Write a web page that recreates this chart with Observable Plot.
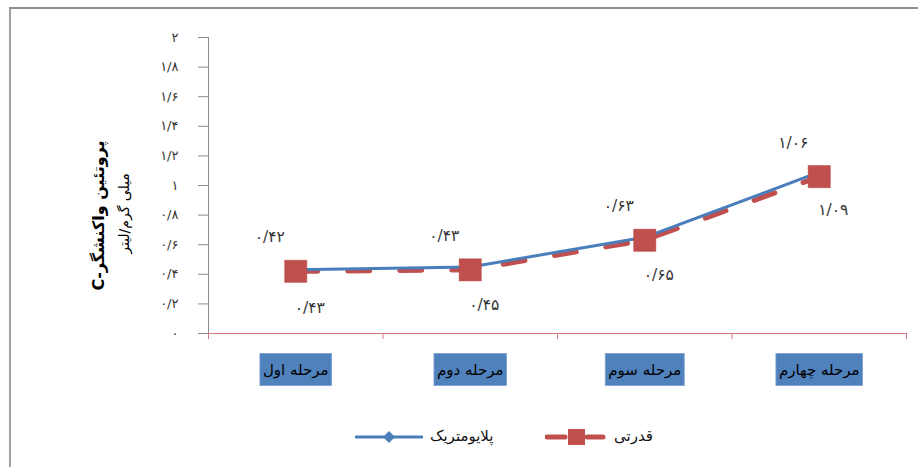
<!DOCTYPE html>
<html>
<head>
<meta charset="utf-8">
<script src="https://cdn.jsdelivr.net/npm/d3@7"></script>
<script src="https://cdn.jsdelivr.net/npm/@observablehq/plot@0.6"></script>
<style>
  html, body { margin: 0; padding: 0; background: #fff; }
  body { width: 918px; height: 467px; position: relative; overflow: hidden; font-family: "DejaVu Sans", sans-serif; }
  #frame { position: absolute; left: 9px; top: 7px; width: 940px; height: 500px; border-top: 2px solid #8e8e8e; border-left: 2px solid #a0a0a0; }
  #chart { position: absolute; left: 0; top: 0; }
  .legend-item { position: absolute; display: flex; align-items: center; font-size: 15px; color: #111; direction: rtl; }
</style>
</head>
<body>
<div id="frame"></div>
<div id="chart"></div>
<div id="legend"></div>
<script>
// ---- data ----
const stages = ["مرحله اول", "مرحله دوم", "مرحله سوم", "مرحله چهارم"];
const plyometric = [0.43, 0.45, 0.65, 1.09];   // پلایومتریک
const strength = [0.42, 0.43, 0.63, 1.06];     // قدرتی
const seriesNames = ["پلایومتریک", "قدرتی"];
const yTicks = [0, 0.2, 0.4, 0.6, 0.8, 1, 1.2, 1.4, 1.6, 1.8, 2];
const yTickLabels = ["۰", "۰/۲", "۰/۴", "۰/۶", "۰/۸", "۱", "۱/۲", "۱/۴", "۱/۶", "۱/۸", "۲"];
const yTitle = "پروتئین واکنشگر-C";
const yUnit = "میلی گرم/لیتر";

const blue = "#4a7ebb";
const red = "#c0504d";

const faDigits = "۰۱۲۳۴۵۶۷۸۹";
const fa = v => v.toFixed(2).replace(/\d/g, d => faDigits[+d]).replace(".", "/");

const plyRows = stages.map((s, i) => ({stage: s, pos: i + 0.5, value: plyometric[i]}));
const strRows = stages.map((s, i) => ({stage: s, pos: i + 0.5, value: strength[i]}));
const stageRows = stages.map((s, i) => ({stage: s, pos: i + 0.5}));

const chart = Plot.plot({
  width: 918,
  height: 400,
  marginLeft: 208,
  marginRight: 12,
  marginTop: 37,
  marginBottom: 67,
  x: {domain: [0, 4]},
  y: {domain: [0, 2]},
  style: {fontFamily: "DejaVu Sans, sans-serif", background: "transparent", overflow: "visible"},
  marks: [
    Plot.axisY(yTicks, {
      tickSize: 10, tickPadding: 20, stroke: "#8c8c8c", fill: "#333", fontSize: 13,
      tickFormat: d => yTickLabels[yTicks.indexOf(d)], label: null
    }),
    Plot.frame({anchor: "left", stroke: "#8c8c8c"}),
    Plot.axisX([0, 1, 2, 3, 4], {tickSize: 6, stroke: "#d9787c", tickFormat: () => "", label: null}),
    Plot.ruleY([0], {stroke: "#d9787c", strokeWidth: 1.2}),
    Plot.line(strRows, {x: "pos", y: "value", stroke: red, strokeWidth: 5, strokeDasharray: "22,30", strokeLinecap: "round"}),
    Plot.line(plyRows, {x: "pos", y: "value", stroke: blue, strokeWidth: 3}),
    Plot.dot(plyRows, {x: "pos", y: "value", symbol: "diamond2", fill: blue, r: 5}),
    Plot.dot(strRows, {x: "pos", y: "value", symbol: "square", fill: red, stroke: "#b8413e", strokeWidth: 0.5, r: 12.5}),
    Plot.text(strRows, {x: "pos", y: "value", text: d => fa(d.value), dx: -26, dy: -34, fontSize: 15.5, fill: "#333"}),
    Plot.text(plyRows, {x: "pos", y: "value", text: d => fa(d.value), dx: 14, dy: 38, fontSize: 15.5, fill: "#333"}),
    Plot.text(stageRows, {x: "pos", frameAnchor: "bottom", dy: 41, text: "stage", fontSize: 15, fill: "#000"}),
    Plot.text([yTitle], {frameAnchor: "left", textAnchor: "middle", rotate: -90, dx: -110, dy: 30, fontSize: 16, fontWeight: "bold", fill: "#000"}),
    Plot.text([yUnit], {frameAnchor: "left", textAnchor: "middle", rotate: -90, dx: -84, dy: 28, fontSize: 14, fill: "#000"})
  ]
});
document.getElementById("chart").appendChild(chart);

// post-processing: RTL direction and boxes behind stage labels
const svg = d3.select(chart);
svg.selectAll("text").each(function() {
  const t = this.textContent;
  if (t === yTitle || t === yUnit || stages.includes(t)) d3.select(this).attr("direction", "rtl").style("direction", "rtl");
});
svg.selectAll("text").filter(function() { return stages.includes(this.textContent); }).each(function() {
  const b = this.getBBox();
  const w = b.width + 6, h = 32;
  d3.select(this.parentNode).insert("rect", () => this)
    .attr("x", b.x + b.width / 2 - w / 2)
    .attr("y", b.y + b.height / 2 - h / 2)
    .attr("width", w).attr("height", h)
    .attr("transform", this.getAttribute("transform"))
    .attr("fill", "#4f81bd").attr("stroke", "#7da0d0").attr("stroke-width", 0.8);
});

// legend (below the plot)
const legend = document.getElementById("legend");
function addItem(left, top, swatchSvg, label) {
  const div = document.createElement("div");
  div.className = "legend-item";
  div.style.left = left + "px";
  div.style.top = top + "px";
  div.style.direction = "ltr";
  div.innerHTML = swatchSvg + `<span style="margin-left:7px;direction:rtl">${label}</span>`;
  legend.appendChild(div);
}
addItem(355, 424,
  `<svg width="68" height="24"><line x1="1" y1="13" x2="67" y2="13" stroke="${blue}" stroke-width="3" stroke-linecap="round"/><path d="M34,7 L40,13 L34,19 L28,13 Z" fill="${blue}"/></svg>`,
  seriesNames[0]);
addItem(545, 424,
  `<svg width="62" height="24"><line x1="2" y1="13" x2="20" y2="13" stroke="${red}" stroke-width="5" stroke-linecap="round"/><line x1="42" y1="13" x2="58" y2="13" stroke="${red}" stroke-width="5" stroke-linecap="round"/><rect x="23" y="5" width="17" height="16" fill="${red}"/></svg>`,
  seriesNames[1]);
</script>
</body>
</html>
